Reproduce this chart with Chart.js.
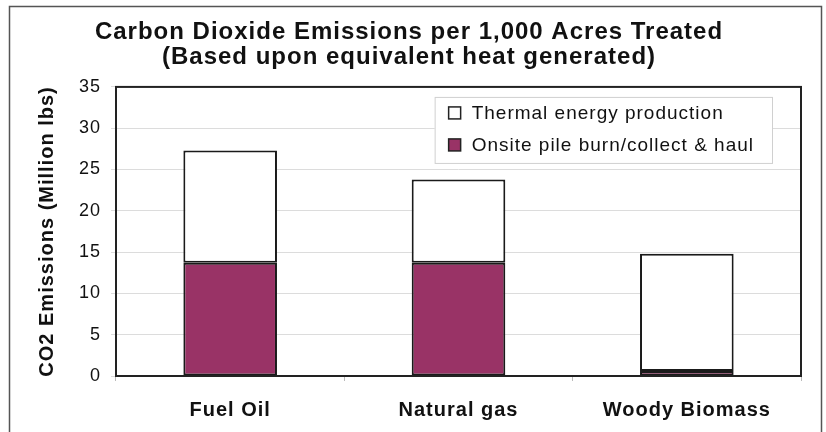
<!DOCTYPE html>
<html>
<head>
<meta charset="utf-8">
<script src="https://cdn.jsdelivr.net/npm/chart.js@4.4.1/dist/chart.umd.min.js"></script>
<style>
  html, body { margin: 0; padding: 0; background: #fff; }
  #wrap { width: 826px; height: 432px; position: relative; }
</style>
</head>
<body>
<div id="wrap"><canvas id="chart"></canvas></div>
<script>
// Datos
const categorias = ['Fuel Oil', 'Natural gas', 'Woody Biomass'];
const onsite = [13.7, 13.7, 0.6];
const termica = [13.6, 10.1, 14.2];
const ticksY = [0, 5, 10, 15, 20, 25, 30, 35];
const tituloLineas = ['Carbon Dioxide Emissions per 1,000 Acres Treated', '(Based upon equivalent heat generated)'];
const tituloY = 'CO2 Emissions (Million lbs)';

const fuente = "'Liberation Sans', Arial, sans-serif";

// Espaciado de letras un poco mas ancho, como en la imagen original
const espaciado = {
    id: 'espaciado',
    beforeLayout(chart) { chart.ctx.letterSpacing = '1px'; },
    beforeDraw(chart) { chart.ctx.letterSpacing = '1px'; }
};

// Marco exterior y borde del area de trazado
const marcos = {
    id: 'marcos',
    afterDraw(chart) {
        const { ctx, chartArea: a } = chart;
        ctx.save();
        ctx.strokeStyle = '#555';
        ctx.lineWidth = 1.5;
        ctx.strokeRect(9.5, 6.5, 812, 440);
        ctx.strokeStyle = '#222';
        ctx.lineWidth = 2;
        ctx.strokeRect(a.left, a.top, a.right - a.left, a.bottom - a.top);
        ctx.restore();
    }
};

// Leyenda dentro del area de trazado (arriba a la derecha)
const leyenda = {
    id: 'leyendaDentro',
    afterDraw(chart) {
        const { ctx, chartArea: a } = chart;
        const items = chart.data.datasets.slice().reverse();
        ctx.save();
        ctx.font = '19px ' + fuente;
        const anchoTexto = Math.max(...items.map(d => ctx.measureText(d.label).width));
        const w = 14 + 12 + 11 + anchoTexto + 18;
        const h = 66;
        const x = a.right - 29 - w;
        const y = a.top + 10;
        ctx.fillStyle = '#fff';
        ctx.fillRect(x, y, w, h);
        ctx.strokeStyle = '#d0d0d0';
        ctx.lineWidth = 1;
        ctx.strokeRect(x + 0.5, y + 0.5, w, h);
        items.forEach((d, i) => {
            const cy = y + 16 + i * 32;
            ctx.fillStyle = d.backgroundColor;
            ctx.fillRect(x + 14, cy - 6, 12, 12);
            ctx.strokeStyle = '#222';
            ctx.lineWidth = 1.5;
            ctx.strokeRect(x + 14, cy - 6, 12, 12);
            ctx.fillStyle = '#111';
            ctx.textBaseline = 'middle';
            ctx.textAlign = 'left';
            ctx.fillText(d.label, x + 14 + 12 + 11, cy + 1);
        });
        ctx.restore();
    }
};

const ctx = document.getElementById('chart').getContext('2d');
const grafico = new Chart(ctx, {
    type: 'bar',
    data: {
        labels: categorias,
        datasets: [
            {
                label: 'Onsite pile burn/collect & haul',
                data: onsite,
                backgroundColor: '#993366',
                borderColor: '#1a1a1a',
                borderWidth: 2,
                borderSkipped: false
            },
            {
                label: 'Thermal energy production',
                data: termica,
                backgroundColor: '#ffffff',
                borderColor: '#1a1a1a',
                borderWidth: 2,
                borderSkipped: false
            }
        ]
    },
    options: {
        responsive: true,
        maintainAspectRatio: false,
        animation: false,
        layout: { padding: { left: 17, right: 25, top: 0, bottom: 10 } },
        datasets: { bar: { categoryPercentage: 1, barPercentage: 0.41 } },
        plugins: {
            legend: { display: false },
            tooltip: { enabled: false },
            title: {
                display: true,
                text: tituloLineas,
                color: '#111',
                font: { family: fuente, size: 24, weight: 'bold', lineHeight: 1.04 },
                padding: { top: 20, bottom: 17 }
            }
        },
        scales: {
            x: {
                stacked: true,
                afterFit: s => { s.height = 46; },
                grid: { display: true, drawOnChartArea: false, tickLength: 5, color: '#bbb', offset: true },
                border: { display: false },
                ticks: { color: '#111', padding: 17, font: { family: fuente, size: 20, weight: 'bold' } }
            },
            y: {
                stacked: true,
                min: 0,
                max: 35,
                afterFit: s => { s.width = 99; },
                afterBuildTicks: s => { s.ticks = ticksY.map(v => ({ value: v })); },
                grid: { color: '#dcdcdc', tickLength: 5, lineWidth: 1 },
                border: { display: false },
                ticks: { color: '#111', padding: 10, font: { family: fuente, size: 18 } },
                title: {
                    display: true,
                    text: tituloY,
                    color: '#111',
                    padding: { top: 18, bottom: 6 },
                    font: { family: fuente, size: 20, weight: 'bold' }
                }
            }
        }
    },
    plugins: [espaciado, marcos, leyenda]
});
</script>
</body>
</html>
